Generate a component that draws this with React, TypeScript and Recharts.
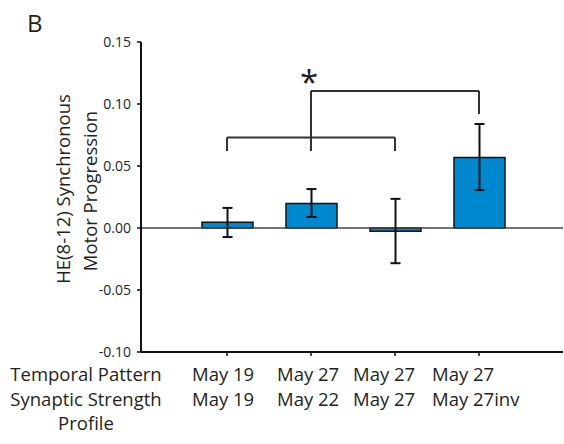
import React from "react";
import {
  BarChart,
  Bar,
  XAxis,
  YAxis,
  ErrorBar,
  ReferenceLine,
  ReferenceDot,
} from "recharts";

const groups = ["g1", "g2", "g3", "g4"];
const temporalPattern = ["May 19", "May 27", "May 27", "May 27"];
const synapticStrength = ["May 19", "May 22", "May 27", "May 27inv"];
const means = [0.0046, 0.0198, -0.0027, 0.0568];
const lowBounds = [-0.0073, 0.0089, -0.0284, 0.0306];
const highBounds = [0.0162, 0.0314, 0.0235, 0.0839];
const yTicks = [-0.1, -0.05, 0, 0.05, 0.1, 0.15];

// significance brackets (data units)
const lowerBracketY = 0.073;
const lowerLegEnd = 0.062;
const upperBracketY = 0.1104;
const upperLegEnd = 0.092;
const starY = 0.1077;

const data = groups.map((id, i) => ({
  id,
  value: means[i],
  err: [means[i] - lowBounds[i], highBounds[i] - means[i]],
}));

const FONT = "'Open Sans', sans-serif";
const INK = "#231f20";
const LABEL_SHIFT = [-35, -34, -42, -47];

function DateTick(props: any) {
  const { x, y, payload } = props;
  const i = payload.index;
  return (
    <g fontFamily={FONT} fontSize={18.5} fill={INK}>
      <text x={x + LABEL_SHIFT[i]} y={y + 25} textAnchor="start">
        {temporalPattern[i]}
      </text>
      <text x={x + LABEL_SHIFT[i]} y={y + 50} textAnchor="start">
        {synapticStrength[i]}
      </text>
    </g>
  );
}

function Star(props: any) {
  const { cx, cy } = props;
  return (
    <text x={cx - 2} y={cy} textAnchor="middle" fontFamily={FONT} fontSize={33} fill={INK}>
      *
    </text>
  );
}

const bracketStroke = { stroke: "#333", strokeWidth: 2 };

export default function App() {
  return (
    <div style={{ position: "absolute", left: 0, top: 0, width: 564, height: 444, background: "#fff" }}>
      <BarChart
        width={564}
        height={444}
        data={data}
        margin={{ top: 42, right: 1, bottom: 0, left: 0 }}
      >
        <XAxis
          dataKey="id"
          height={92}
          padding={{ left: 44, right: 42 }}
          axisLine={{ stroke: "#111", strokeWidth: 2 }}
          tickLine={{ stroke: "#111", strokeWidth: 1.5 }}
          tickSize={4}
          tickMargin={0}
          tick={<DateTick />}
          interval={0}
        />
        <YAxis
          width={141}
          domain={[-0.1, 0.15]}
          ticks={yTicks}
          tickFormatter={(v: number) => v.toFixed(2)}
          axisLine={{ stroke: "#111", strokeWidth: 2 }}
          tickLine={{ stroke: "#111", strokeWidth: 1.5 }}
          tickSize={4}
          tickMargin={6}
          tick={{ fontFamily: FONT, fontSize: 14, fill: INK }}
          allowDataOverflow
        />
        <ReferenceLine y={0} stroke="#444" strokeWidth={1.5} />
        <Bar
          dataKey="value"
          barSize={51}
          fill="#0088cf"
          stroke="#111"
          strokeWidth={1.5}
          isAnimationActive={false}
        >
          <ErrorBar dataKey="err" width={5} stroke="#111" strokeWidth={2} direction="y" />
        </Bar>
        {/* lower bracket: groups 1-3 */}
        <ReferenceLine segment={[{ x: "g1", y: lowerBracketY }, { x: "g3", y: lowerBracketY }]} {...bracketStroke} />
        <ReferenceLine segment={[{ x: "g1", y: lowerBracketY }, { x: "g1", y: lowerLegEnd }]} {...bracketStroke} />
        <ReferenceLine segment={[{ x: "g2", y: lowerBracketY }, { x: "g2", y: lowerLegEnd }]} {...bracketStroke} />
        <ReferenceLine segment={[{ x: "g3", y: lowerBracketY }, { x: "g3", y: lowerLegEnd }]} {...bracketStroke} />
        {/* upper bracket: middle of lower bracket to group 4 */}
        <ReferenceLine segment={[{ x: "g2", y: upperBracketY }, { x: "g4", y: upperBracketY }]} {...bracketStroke} />
        <ReferenceLine segment={[{ x: "g2", y: upperBracketY }, { x: "g2", y: lowerBracketY }]} {...bracketStroke} />
        <ReferenceLine segment={[{ x: "g4", y: upperBracketY }, { x: "g4", y: upperLegEnd }]} {...bracketStroke} />
        <ReferenceDot x="g2" y={starY} r={0} shape={<Star />} />
      </BarChart>
      <svg
        width={564}
        height={444}
        style={{ position: "absolute", left: 0, top: 0, pointerEvents: "none" }}
        fontFamily={FONT}
        fill={INK}
      >
        <text x={27} y={32} fontSize={24}>B</text>
        <text x={70} y={189} fontSize={18.5} textAnchor="middle" transform="rotate(-90 70 189)">
          HE(8-12) Synchronous
        </text>
        <text x={97} y={191} fontSize={18.5} textAnchor="middle" transform="rotate(-90 97 191)">
          Motor Progression
        </text>
        <text x={86} y={381} fontSize={18.5} textAnchor="middle">Temporal Pattern</text>
        <text x={86} y={406} fontSize={18.5} textAnchor="middle">Synaptic Strength</text>
        <text x={86} y={430} fontSize={18.5} textAnchor="middle">Profile</text>
      </svg>
    </div>
  );
}
